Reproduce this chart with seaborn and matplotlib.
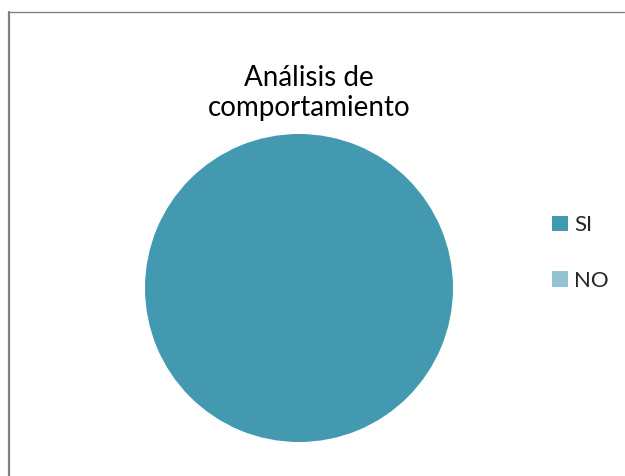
import matplotlib
matplotlib.use("Agg")
import matplotlib.pyplot as plt
import seaborn as sns
from matplotlib.lines import Line2D
from matplotlib.patches import Patch

labels = ['SI', 'NO']
values = [100, 0]
colors = ['#4399B0', '#93C4D5']
title = "Análisis de\ncomportamiento"

sns.set_theme(style="white")
plt.rcParams['font.family'] = ['Lato', 'DejaVu Sans']

fig = plt.figure(figsize=(6.25, 4.76), dpi=100)
W, H = 625, 476
cx, cy, r = 299, 288, 154
ax = fig.add_axes([(cx - r) / W, (H - cy - r) / H, 2 * r / W, 2 * r / H])
ax.pie(values, colors=colors, startangle=90, counterclock=False, radius=1,
       wedgeprops={'linewidth': 0})
ax.set_xlim(-1, 1)
ax.set_ylim(-1, 1)
ax.set_aspect('equal')
ax.axis('off')

fig.text(309 / W, 1 - 93 / H, title, ha='center', va='center',
         fontsize=20, linespacing=1.2, color='black')

handles = [Patch(facecolor=c, edgecolor='none') for c in colors]
fig.legend(handles, labels, loc='center left', bbox_to_anchor=(552 / W, 1 - 253 / H),
           frameon=False, fontsize=16, handlelength=0.7, handleheight=0.7,
           handletextpad=0.3, labelspacing=1.6, borderpad=0, borderaxespad=0)

# chart frame (top and left edges visible)
fig.add_artist(Line2D([9 / W, 9 / W], [0, 1 - 11.5 / H], transform=fig.transFigure,
                      color='#808080', linewidth=1.6))
fig.add_artist(Line2D([8 / W, 624 / W], [1 - 11.5 / H, 1 - 11.5 / H], transform=fig.transFigure,
                      color='#808080', linewidth=1.0))

fig.savefig("out.png", dpi=100, facecolor='white')
